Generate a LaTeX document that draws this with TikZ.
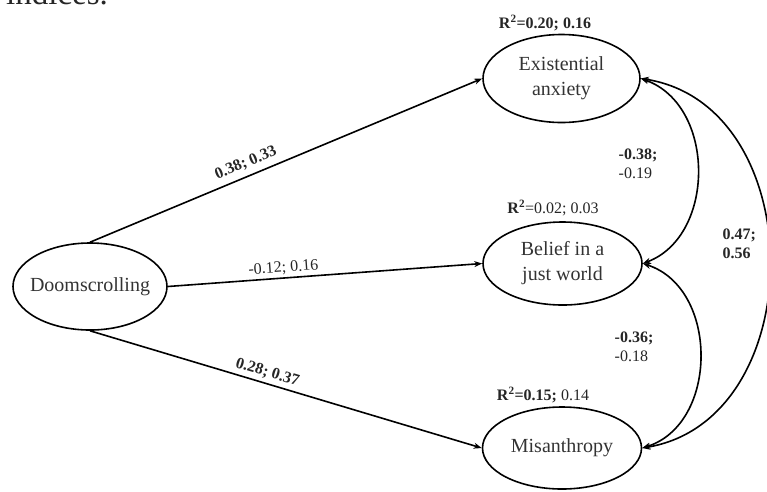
\documentclass[tikz,border=0pt]{standalone}
\usepackage{fontspec}
\setmainfont{Liberation Serif}
\usetikzlibrary{shapes.geometric,arrows.meta}
\begin{document}
\begin{tikzpicture}[x=1pt,y=-1pt,
  var/.style={draw, ellipse, line width=1.6pt, inner sep=0pt},
  vtext/.style={font=\fontsize{20}{25}\selectfont, text=black!80, align=center},
  lab/.style={font=\fontsize{16}{19}\selectfont, text=black!85, inner sep=1.5pt},
  pathar/.style={line width=1.6pt, -{Stealth[length=8pt,width=6pt]}},
  cov/.style={line width=1.6pt, {Stealth[length=8pt,width=6pt]}-{Stealth[length=8pt,width=6pt]}}]
\useasboundingbox (0,0) rectangle (767,491);

% cropped caption fragment
\node[anchor=base west, inner sep=0pt, font=\fontsize{33}{36}\selectfont, text=black!85] (frag) at (6,4) {indices.};

% latent variables
\node[var, minimum width=154pt, minimum height=87pt] (doom) at (90,286.5) {};
\node[vtext] (doomt) at (doom) {Doomscrolling};
\node[var, minimum width=157pt, minimum height=88pt] (exist) at (561.5,78.5) {};
\node[vtext] (existt) at (exist) {Existential\\anxiety};
\node[var, minimum width=159pt, minimum height=83pt] (belief) at (562.5,263.5) {};
\node[vtext] (belieft) at (belief) {Belief in a\\just world};
\node[var, minimum width=159pt, minimum height=82pt] (misan) at (562,448) {};
\node[vtext] (misant) at (misan) {Misanthropy};

% regression paths
\draw[pathar] (doom.north) -- node[lab, sloped, above=4pt, pos=0.41] {\textbf{0.38; 0.33}} (exist.west);
\draw[pathar] (doom.east) -- node[lab, sloped, above=1pt, pos=0.37] {-0.12; 0.16} (belief.west);
\draw[pathar] (doom.south) -- node[lab, sloped, above=2pt, pos=0.445] {\textbf{0.28; 0.37}} (misan.west);

% covariances
\draw[cov] (exist.east) .. controls (716,105) and (716,236) .. (belief.east);
\draw[cov] (belief.east) .. controls (719,288) and (719,424) .. (misan.east);
\draw[cov] (exist.east) .. controls (812,105) and (812,420) .. (misan.east);

% R-squared labels
\node[lab] (r1) at (545,23) {\textbf{R\textsuperscript{2}=0.20; 0.16}};
\node[lab] (r2) at (553,208) {\textbf{R\textsuperscript{2}}=0.02; 0.03};
\node[lab] (r3) at (543,395) {\textbf{R\textsuperscript{2}=0.15;} 0.14};

% covariance labels
\node[lab, align=left, anchor=west] (c1) at (617,164) {\textbf{-0.38;}\\-0.19};
\node[lab, align=left, anchor=west] (c2) at (721,244) {\textbf{0.47;}\\\textbf{0.56}};
\node[lab, align=left, anchor=west] (c3) at (613,347) {\textbf{-0.36;}\\-0.18};
\end{tikzpicture}
\end{document}
